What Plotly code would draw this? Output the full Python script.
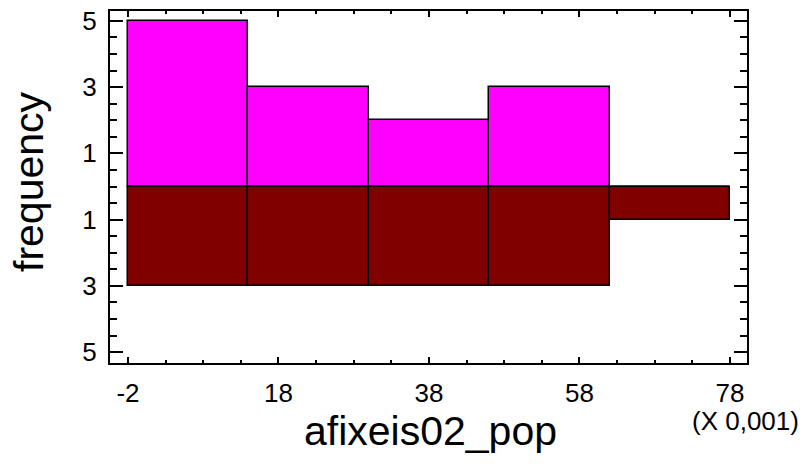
import plotly.graph_objects as go

bin_edges = [-2, 14, 30, 46, 62, 78]
top_counts = [5, 3, 2, 3, 0]
bottom_counts = [3, 3, 3, 3, 1]
x_tickvals = [-2, 18, 38, 58, 78]
x_ticktext = ["-2", "18", "38", "58", "78"]
y_tickvals = [-5, -3, -1, 1, 3, 5]
y_ticktext = ["5", "3", "1", "1", "3", "5"]

centers = [(a + b) / 2 for a, b in zip(bin_edges[:-1], bin_edges[1:])]
widths = [b - a for a, b in zip(bin_edges[:-1], bin_edges[1:])]

FONT = "Arial, Liberation Sans, sans-serif"
TICK = 26

fig = go.Figure()
fig.add_trace(go.Bar(
    x=centers, y=top_counts, width=widths,
    marker=dict(color="#FF00FF", line=dict(color="black", width=1.5)),
    showlegend=False,
))
fig.add_trace(go.Bar(
    x=centers, y=[-c for c in bottom_counts], width=widths,
    marker=dict(color="#800000", line=dict(color="black", width=1.5)),
    showlegend=False,
))

fig.update_layout(
    width=808, height=466,
    margin=dict(l=110, r=61, t=11, b=103),
    paper_bgcolor="white", plot_bgcolor="white",
    barmode="overlay", bargap=0,
    font=dict(family=FONT, color="black", size=TICK),
)
fig.update_xaxes(
    range=[-4.39, 80.26], automargin=False,
    tickmode="array", tickvals=x_tickvals, ticktext=x_ticktext,
    ticks="inside", ticklen=6, tickwidth=1.5, tickcolor="black",
    minor=dict(tickmode="linear", tick0=-2, dtick=5, ticks="inside", ticklen=3, tickwidth=1.5, tickcolor="black"),
    showline=True, linewidth=2, linecolor="black", mirror="ticks",
    showgrid=False, zeroline=False,
    tickfont=dict(size=TICK, family=FONT),
    ticklabelstandoff=6,
)
fig.update_yaxes(
    range=[-5.33, 5.30], automargin=False,
    tickmode="array", tickvals=y_tickvals, ticktext=y_ticktext,
    ticks="inside", ticklen=13, tickwidth=1.5, tickcolor="black",
    minor=dict(tickmode="linear", tick0=0, dtick=0.5, ticks="inside", ticklen=7, tickwidth=1.5, tickcolor="black"),
    showline=True, linewidth=2, linecolor="black", mirror="ticks",
    showgrid=False, zeroline=False,
    tickfont=dict(size=TICK, family=FONT),
    ticklabelstandoff=6,
)

fig.add_annotation(text="afixeis02_pop", xref="paper", yref="paper",
                   x=(430 - 110) / 637, y=(363 - 431) / 352,
                   xanchor="center", yanchor="middle", showarrow=False,
                   font=dict(size=41, family=FONT))
fig.add_annotation(text="frequency", xref="paper", yref="paper",
                   x=(29 - 110) / 637, y=(363 - 182) / 352, textangle=-90,
                   xanchor="center", yanchor="middle", showarrow=False,
                   font=dict(size=41, family=FONT))
fig.add_annotation(text="(X 0,001)", xref="paper", yref="paper",
                   x=(745 - 110) / 637, y=(363 - 421) / 352,
                   xanchor="center", yanchor="middle", showarrow=False,
                   font=dict(size=TICK, family=FONT))

fig.write_html("out.html")
